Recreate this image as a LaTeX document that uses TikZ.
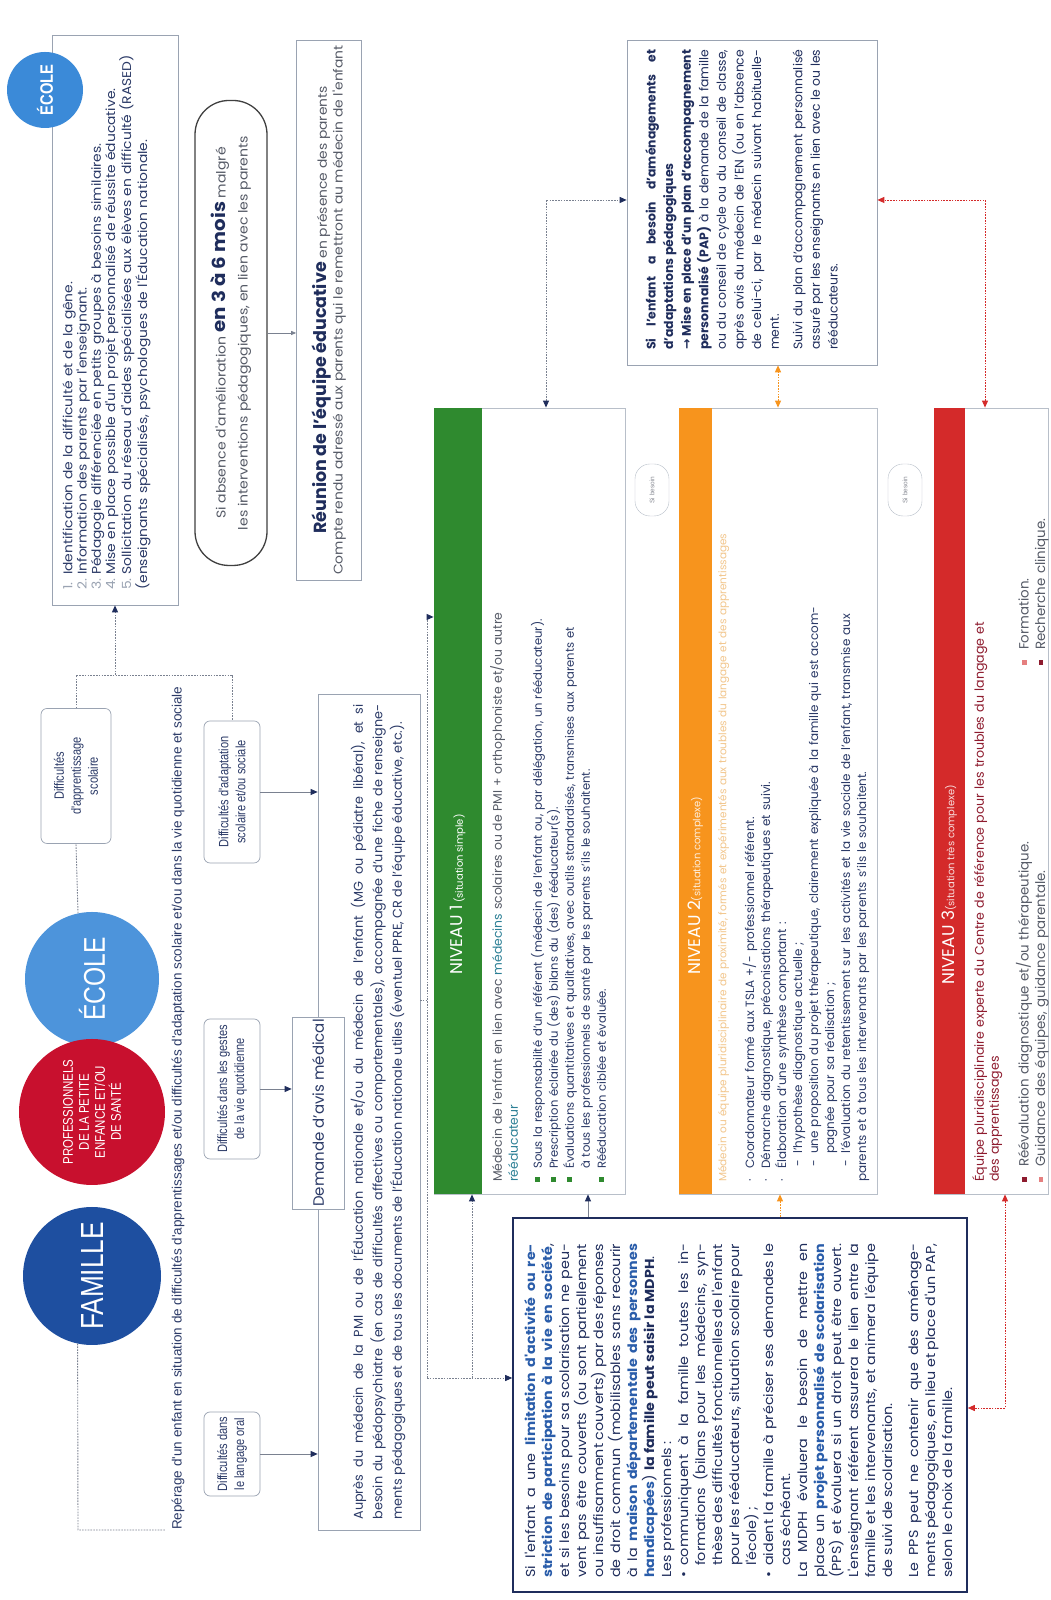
\documentclass[tikz,border=0pt]{standalone}
\usepackage{fontspec}
\setmainfont{Poppins}
\newfontfamily\widefont[FakeStretch=1.1]{Poppins}
\newfontfamily\narrowfont[FakeStretch=0.82]{Liberation Sans}
\newfontfamily\libfont{Liberation Sans}
\newfontfamily\symfont{DejaVu Sans}
\usetikzlibrary{arrows.meta}
\definecolor{navy}{HTML}{1F2D5C}
\definecolor{textnavy}{HTML}{2B3A67}
\definecolor{hiblue}{HTML}{2A5DAA}
\definecolor{famblue}{HTML}{1E4FA0}
\definecolor{profred}{HTML}{C8102E}
\definecolor{ecoleblue}{HTML}{4D94DB}
\definecolor{ecoleblueb}{HTML}{3B8AD8}
\definecolor{boxgray}{HTML}{9AA3B2}
\definecolor{linegray}{HTML}{7A8190}
\definecolor{nivgreen}{HTML}{2F8A2F}
\definecolor{nivorange}{HTML}{F7941D}
\definecolor{nivred}{HTML}{D42A2A}
\definecolor{darkred}{HTML}{8E1B2E}
\definecolor{tealc}{HTML}{2B7F95}
\definecolor{graytext}{HTML}{555A66}
\definecolor{faintorange}{HTML}{F2C68C}
\newcommand{\fsz}[2]{\fontsize{#1}{#2}\selectfont}
\newcommand{\bitem}[3]{\par\noindent\hangindent=#1\hangafter=1\makebox[#1][l]{#2}#3}
\newcommand{\sqb}[1]{\textcolor{#1}{\rule[2pt]{4.5pt}{4.5pt}}}
\begin{document}
\begin{tikzpicture}[x=1pt,y=1pt,rotate=90,transform shape,
  thinbox/.style={draw=boxgray,line width=0.7pt,fill=white,inner sep=0pt},
  rbox/.style={thinbox,rounded corners=6pt,align=center,text=textnavy,font=\narrowfont\fsz{13.5}{17}},
  dline/.style={draw=linegray,line width=0.9pt,dash pattern=on 1.6pt off 1.2pt},
  sline/.style={draw=linegray,line width=0.8pt},
  tipn/.style={-{Triangle[length=7pt,width=6pt,color=navy]}},
  tipboth/.style={{Triangle[length=7pt,width=6pt,color=#1]}-{Triangle[length=7pt,width=6pt,color=#1]}},
  circ/.style={circle,inner sep=0pt,text=white,align=center},
  txt/.style={inner sep=0pt},
  bubble/.style={draw=boxgray!70,rounded corners=15pt,minimum width=52pt,minimum height=34pt,align=center,font=\libfont\fsz{6.5}{7.5},text=graytext!70,inner sep=1pt,fill=white},
  head/.style={anchor=west,inner sep=0pt,text=white}
]
\fill[white] (0,0) rectangle (1600,-1050);
\useasboundingbox (0,0) rectangle (1600,-1050);

% ---------- circles ----------
\node[circ,fill=famblue,minimum size=138pt,font=\narrowfont\fsz{32}{32}] (fam) at (324,-92) {FAMILLE};
\node[circ,fill=ecoleblue,minimum size=134pt,font=\narrowfont\fsz{30}{30}] (ecole) at (621,-92) {ÉCOLE};
\node[circ,fill=profred,minimum size=146pt,font=\narrowfont\fsz{14}{16}] (prof) at (488,-92) {PROFESSIONNELS\\DE LA PETITE\\ENFANCE ET/OU\\DE SANTÉ};

\draw[dline] (fam.168) -- (70,-78) -- (70,-166);
\node[txt,anchor=west,text=textnavy,font=\libfont\fsz{13.5}{14}] (rep) at (70,-178) {Repérage d'un enfant en situation de difficultés d'apprentissages et/ou difficultés d'adaptation scolaire et/ou dans la vie quotidienne et sociale};

% ---------- difficulty boxes ----------
\node[rbox,minimum width=84pt,minimum height=56pt] (dlang) at (146,-232) {Difficultés dans\\le langage oral};
\node[rbox,minimum width=140pt,minimum height=56pt] (dgest) at (511,-232) {Difficultés dans les gestes\\de la vie quotidienne};
\node[rbox,minimum width=142pt,minimum height=56pt] (dadapt) at (808,-232) {Difficultés d'adaptation\\scolaire et/ou sociale};
\node[rbox,minimum width=135pt,minimum height=70pt] (dappr) at (824,-76) {Difficultés\\d'apprentissage\\scolaire};

% ---------- school list ----------
\node[draw=boxgray,line width=0.8pt,minimum width=570pt,minimum height=126pt,inner sep=0pt] (lbox) at (1280,-115) {};
\node[circ,fill=ecoleblueb,minimum size=76pt,font=\narrowfont\bfseries\fsz{18}{18}] (ecoleb) at (1510,-45) {ÉCOLE};
\node[txt,anchor=north west,text width=550pt,font=\widefont\fsz{12.6}{14.2},text=textnavy,align=left] (ltxt) at (1010,-58) {%
\bitem{15pt}{\textcolor{boxgray}{1.}}{Identification de la difficulté et de la gêne.}
\bitem{15pt}{\textcolor{boxgray}{2.}}{Information des parents par l'enseignant.}
\bitem{15pt}{\textcolor{boxgray}{3.}}{Pédagogie différenciée en petits groupes à besoins similaires.}
\bitem{15pt}{\textcolor{boxgray}{4.}}{Mise en place possible d'un projet personnalisé de réussite éducative.}
\bitem{15pt}{\textcolor{boxgray}{5.}}{Sollicitation du réseau d'aides spécialisées aux élèves en difficulté (RASED)\newline (enseignants spécialisés, psychologues de l'Éducation nationale.}};

\draw[dline] (ecole.12) -- (dappr.west);
\draw[dline] (dappr.east) -- (925,-76) -- (925,-232) -- (dadapt.east);
\coordinate (j1) at (925,-115);
\draw[dline,tipn] (j1) -- (lbox.west);

% ---------- stadium and meeting ----------
\node[draw=darkgray,line width=1.3pt,rounded corners=34pt,minimum width=465pt,minimum height=72pt,align=center,fill=white,inner sep=0pt,font=\widefont\fsz{12.8}{22},text=graytext] (stad) at (1267,-231) {Si absence d'amélioration {\fsz{18}{22}\bfseries\color{navy}en 3 à 6 mois} malgré\\les interventions pédagogiques, en lien avec les parents};
\node[thinbox,minimum width=540pt,minimum height=65pt,align=center,text=graytext] (reun) at (1290,-329) {{\fsz{17.5}{21}\bfseries\color{navy}Réunion de l'équipe éducative}{\widefont\fsz{12.6}{21} en présence des parents}\\{\widefont\fsz{12.6}{18}Compte rendu adressé aux parents qui le remettront au médecin de l'enfant}};
\draw[sline,-{Triangle[length=5pt,width=4pt,color=linegray]}] (stad.south) -- (stad.south |- reun.north);

% ---------- medical request ----------
\node[thinbox,minimum width=836pt,minimum height=102pt] (auprs) at (488,-369) {};
\node[txt,text width=815pt,align=justify,font=\fsz{12.8}{19.5},text=textnavy] (auprst) at (488,-378) {Auprès du médecin de la PMI ou de l'Éducation nationale et/ou du médecin de l'enfant (MG ou pédiatre libéral), et si\linebreak besoin du pédopsychiatre (en cas de difficultés affectives ou comportementales), accompagnée d'une fiche de renseigne-\linebreak ments pédagogiques et de tous les documents de l'Éducation nationale utiles (éventuel PPRE, CR de l'équipe éducative, etc.).};
\node[thinbox,minimum width=192pt,minimum height=52pt,font=\fsz{15}{18},text=textnavy] (dem) at (487,-318) {Demande d'avis médical};

\draw[sline,tipn] (dlang.south) -- (dlang.south |- auprs.north);
\draw[sline,tipn] (dgest.south) -- (dgest.south |- dem.north);
\draw[sline,tipn] (dadapt.south) -- (dadapt.south |- auprs.north);

% ---------- levels ----------
\node[draw=boxgray!70,line width=0.8pt,minimum width=786pt,minimum height=191pt,inner sep=0pt] (n1) at (799,-529.5) {};
\node[fill=nivgreen,minimum width=786pt,minimum height=48pt,anchor=north,inner sep=0pt] (n1h) at (n1.north) {};
\node[head] (n1ht) at (625,-458) {{\fsz{17}{17}NIVEAU 1}{\fsz{10}{10} (situation simple)}};
\node[txt,anchor=north west,text width=770pt,text=textnavy,font=\fsz{11.6}{16},align=left] (n1t) at (418,-490) {%
{\fsz{12.4}{16}\color{graytext}Médecin de l'enfant en lien avec \textcolor{tealc}{médecins} scolaires ou de PMI + orthophoniste et/ou autre\newline \textcolor{tealc}{rééducateur}}\par\vspace{8pt}
\bitem{13pt}{\sqb{nivgreen}}{Sous la responsabilité d'un référent (médecin de l'enfant ou, par délégation, un rééducateur).}
\bitem{13pt}{\sqb{nivgreen}}{Prescription éclairée du (des) bilans du (des) rééducateur(s).}
\bitem{13pt}{\sqb{nivgreen}}{Évaluations quantitatives et qualitatives, avec outils standardisés, transmises aux parents et\newline à tous les professionnels de santé par les parents s'ils le souhaitent.}
\bitem{13pt}{\sqb{nivgreen}}{Rééducation ciblée et évaluée.}};

\node[draw=boxgray!70,line width=0.8pt,minimum width=786pt,minimum height=198pt,inner sep=0pt] (n2) at (799,-778) {};
\node[fill=nivorange,minimum width=786pt,minimum height=33pt,anchor=north,inner sep=0pt] (n2h) at (n2.north) {};
\node[head] (n2ht) at (625,-695.5) {{\fsz{17}{17}NIVEAU 2}{\fsz{10}{10}\color{white!85!nivorange} (situation complexe)}};
\node[txt,anchor=north west,text width=770pt,text=faintorange,font=\fsz{10.5}{12}] (n2s) at (418,-718) {Médecin ou équipe pluridisciplinaire de proximité, formés et expérimentés aux troubles du langage et des apprentissages};
\node[txt,anchor=north west,text width=770pt,text=textnavy,font=\fsz{12}{16},align=left] (n2t) at (418,-738) {%
\bitem{13pt}{·}{Coordonnateur formé aux TSLA +/- professionnel référent.}
\bitem{13pt}{·}{Démarche diagnostique, préconisations thérapeutiques et suivi.}
\bitem{13pt}{·}{Élaboration d'une synthèse comportant :}
\bitem{28pt}{\hspace{15pt}-}{l'hypothèse diagnostique actuelle ;}
\bitem{28pt}{\hspace{15pt}-}{une proposition du projet thérapeutique, clairement expliquée à la famille qui est accom-\newline pagnée pour sa réalisation ;}
\bitem{28pt}{\hspace{15pt}-}{l'évaluation du retentissement sur les activités et la vie sociale de l'enfant, transmise aux\newline parents et à tous les intervenants par les parents s'ils le souhaitent.}};

\node[draw=boxgray!70,line width=0.8pt,minimum width=786pt,minimum height=114pt,inner sep=0pt] (n3) at (799,-991) {};
\node[fill=nivred,minimum width=786pt,minimum height=31pt,anchor=north,inner sep=0pt] (n3h) at (n3.north) {};
\node[head] (n3ht) at (615,-949.5) {{\fsz{17}{17}NIVEAU 3}{\fsz{10}{10}\color{white!85!nivred} (situation très complexe)}};
\node[txt,anchor=north west,text width=770pt,text=darkred,font=\fsz{12.6}{15},align=left] (n3t) at (418,-972) {Équipe pluridisciplinaire experte du Centre de référence pour les troubles du langage et\newline des apprentissages};
\node[txt,anchor=north west,text width=440pt,text=graytext,font=\fsz{13.4}{16.5},align=left] (n3a) at (418,-1012) {%
\bitem{15pt}{\sqb{darkred}}{Réévaluation diagnostique et/ou thérapeutique.}
\bitem{15pt}{\sqb{nivred!60}}{Guidance des équipes, guidance parentale.}};
\node[txt,anchor=north west,text width=220pt,text=graytext,font=\fsz{13.4}{16.5},align=left] (n3b) at (935,-1012) {%
\bitem{15pt}{\sqb{nivred!60}}{Formation.}
\bitem{15pt}{\sqb{darkred}}{Recherche clinique.}};

\node[bubble] (bub1) at (1110,-652) {Si besoin};
\node[bubble] (bub2) at (1110,-905) {Si besoin};

% ---------- MDPH box ----------
\node[draw=navy,line width=1.6pt,fill=white,minimum width=374pt,minimum height=454pt,inner sep=0pt] (mdph) at (195,-740) {};
\node[txt,anchor=north west,text width=334pt,text=navy,font=\widefont\fsz{13}{17},align=justify] (mdpht) at (22,-524) {%
Si l'enfant a une \textbf{\textcolor{hiblue}{limitation d'activité ou restriction de participation à la vie en société}}, et si les besoins pour sa scolarisation ne peuvent pas être couverts (ou sont partiellement ou insuffisamment couverts) par des réponses de droit commun (mobilisables sans recourir à la \textbf{\textcolor{hiblue}{maison départementale des personnes handicapées}}) \textbf{la famille peut saisir la MDPH}.\par
Les professionnels :
\bitem{12pt}{•}{communiquent à la famille toutes les informations (bilans pour les médecins, synthèse des difficultés fonctionnelles de l'enfant pour les rééducateurs, situation scolaire pour l'école) ;}
\bitem{12pt}{•}{aident la famille à préciser ses demandes le cas échéant.}\par
La MDPH évaluera le besoin de mettre en place un \textbf{\textcolor{hiblue}{projet personnalisé de scolarisation}} (PPS) et évaluera si un droit peut être ouvert. L'enseignant référent assurera le lien entre la famille et les intervenants, et animera l'équipe de suivi de scolarisation.\par\vspace{9pt}
Le PPS peut ne contenir que des aménagements pédagogiques, en lieu et place d'un PAP, selon le choix de la famille.};

% ---------- PAP box ----------
\node[thinbox,minimum width=325pt,minimum height=250pt] (pap) at (1397.5,-752) {};
\node[txt,anchor=north west,text width=300pt,text=navy,font=\fsz{12.4}{17.6},align=justify] (papt) at (1250,-645) {%
\textbf{Si l'enfant a besoin d'aménagements et d'adaptations pédagogiques}\par
\textbf{{\symfont →} Mise en place d'un plan d'accompagnement personnalisé (PAP)} à la demande de la famille ou du conseil de cycle ou du conseil de classe, après avis du médecin de l'EN (ou en l'absence de celui-ci, par le médecin suivant habituellement.\par\vspace{6pt}
Suivi du plan d'accompagnement personnalisé assuré par les enseignants en lien avec le ou les rééducateurs.};

% ---------- connectors between blocks ----------
\coordinate (a2) at (600,-420);
\coordinate (c1) at (600,-427);
\coordinate (c2) at (222,-427);
\coordinate (c4) at (983,-427);
\draw[dline] (a2) -- (c1);
\draw[dline,tipn] (c2) -- (c4) -- (c4 |- n1.north);
\draw[dline,tipn] (c2) -- (c2 |- mdph.north);
\coordinate (c3) at (222,-472);
\draw[dline,tipn] (c3) -- (n1.west |- c3);
\coordinate (m1) at (383,-588);
\draw[sline,tipn] (m1) -- (n1.west |- m1);
\coordinate (m2) at (383,-780);
\draw[draw=nivorange,line width=0.9pt,dash pattern=on 1.6pt off 1.2pt,-{Triangle[length=7pt,width=6pt,color=nivorange]}] (m2) -- (n2.west |- m2);
\coordinate (d1) at (192,-1005);
\draw[draw=nivred,line width=0.9pt,dash pattern=on 1.6pt off 1.2pt,tipboth=nivred] (n3.west |- d1) -- (d1) -- (d1 |- mdph.south);
\coordinate (p1) at (1400,-546);
\draw[dline,tipboth=navy] (n1.east |- p1) -- (p1) -- (p1 |- pap.north);
\draw[draw=nivorange,line width=0.9pt,dash pattern=on 1.6pt off 1.2pt,tipboth=nivorange] (n2.east) -- (pap.west |- n2.east);
\coordinate (p3) at (1400,-985);
\draw[draw=nivred,line width=0.9pt,dash pattern=on 1.6pt off 1.2pt,tipboth=nivred] (n3.east |- p3) -- (p3) -- (p3 |- pap.south);
\end{tikzpicture}
\end{document}
